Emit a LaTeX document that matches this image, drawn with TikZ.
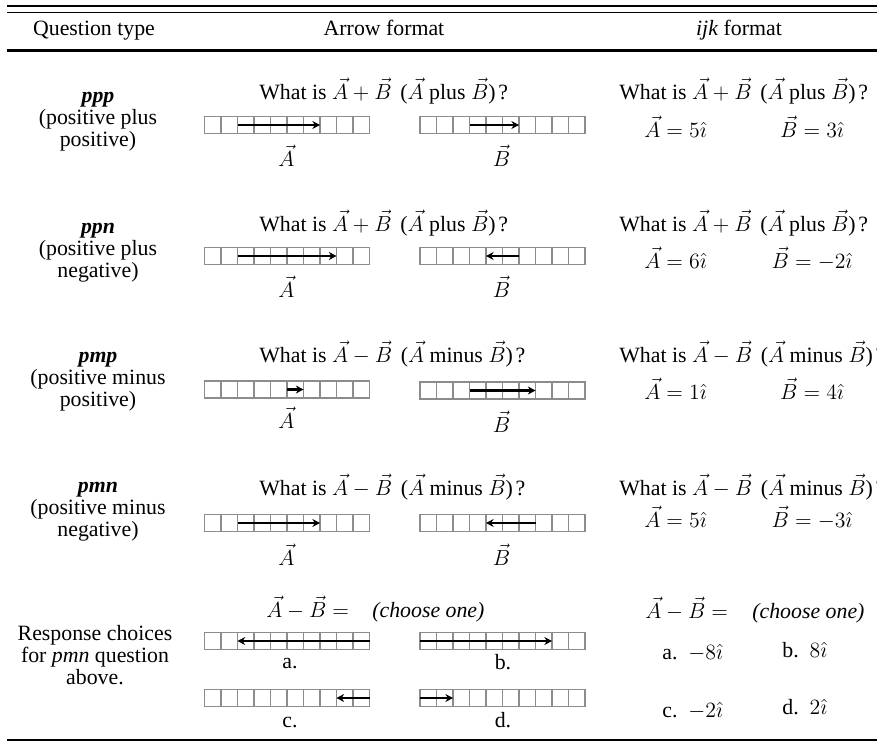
\documentclass[tikz,border=0pt]{standalone}
\usepackage{fontspec}
\setmainfont{Liberation Serif}
\usetikzlibrary{arrows.meta}
\tikzset{
  txt/.style={inner sep=0pt, anchor=base, font=\fontsize{12}{13.8}\selectfont},
  txtw/.style={txt, anchor=base west},
  cellbox/.style={draw=black!45, line width=0.6pt},
  vec/.style={line width=1.4pt, -{Stealth[length=4.2pt,width=4.4pt]}},
  rulethick/.style={line width=1.3pt},
  rulethin/.style={line width=0.8pt},
}
\newcommand\cellrow[2]{\foreach \i in {0,...,9}{\draw[cellbox] ({#1+\i*16.5},{#2}) rectangle ++(16.5,17);}}
\newcommand\vecarrow[4]{\draw[vec] ({#1+#3*16.5},{#2+8.5}) -- ({#1+#4*16.5},{#2+8.5});}
\newcommand\qplus{What is $\vec{A}+\vec{B}$\hspace{0.4em}($\vec{A}$ plus $\vec{B}$)\kern1.5pt?}
\newcommand\qminus{What is $\vec{A}-\vec{B}$\hspace{0.4em}($\vec{A}$ minus $\vec{B}$)\kern1.5pt?}
\begin{document}
\begin{tikzpicture}[x=0.55pt,y=-0.55pt]
\useasboundingbox (0,0) rectangle (877,745);
% rules
\draw[rulethick] (7,6.2) -- (877,6.2);
\draw[rulethin] (7,12.5) -- (877,12.5);
\draw[rulethick] (7,50.5) -- (877,50.5);
\draw[rulethick] (7,740) -- (877,740);
% header
\node[txt] (h1) at (94,36) {Question type};
\node[txt] (h2) at (384,36) {Arrow format};
\node[txt] (h3) at (739,36) {\textit{ijk} format};
% ---------- row ppp
\node[txt] (l1a) at (98,103) {\textbf{\textit{ppp}}};
\node[txt] (l1b) at (98,125) {(positive plus};
\node[txt] (l1c) at (98,147) {positive)};
\node[txtw] (q1) at (259,99) {\qplus};
\cellrow{204.5}{116.5}\vecarrow{204.5}{116.5}{2}{7}
\cellrow{420}{116.5}\vecarrow{420}{116.5}{3}{6}
\node[txt] (a1) at (286.5,166) {$\vec{A}$};
\node[txt] (b1) at (501.5,166) {$\vec{B}$};
\node[txtw] (k1) at (619,99) {\qplus};
\node[txt] (ka1) at (675.5,137) {$\vec{A}=5\hat{\imath}$};
\node[txt] (kb1) at (812,137) {$\vec{B}=3\hat{\imath}$};
% ---------- row ppn
\node[txt] (l2a) at (98,233) {\textbf{\textit{ppn}}};
\node[txt] (l2b) at (98,255) {(positive plus};
\node[txt] (l2c) at (98,277) {negative)};
\node[txtw] (q2) at (259,231) {\qplus};
\cellrow{204.5}{247.5}\vecarrow{204.5}{247.5}{2}{8}
\cellrow{420}{247.5}\vecarrow{420}{247.5}{6}{4}
\node[txt] (a2) at (286.5,297) {$\vec{A}$};
\node[txt] (b2) at (501.5,297) {$\vec{B}$};
\node[txtw] (k2) at (619,231) {\qplus};
\node[txt] (ka2) at (675.5,268) {$\vec{A}=6\hat{\imath}$};
\node[txt] (kb2) at (812,268) {$\vec{B}=-2\hat{\imath}$};
% ---------- row pmp
\node[txt] (l3a) at (98,362) {\textbf{\textit{pmp}}};
\node[txt] (l3b) at (98,384) {(positive minus};
\node[txt] (l3c) at (98,406) {positive)};
\node[txtw] (q3) at (259,362) {\qminus};
\cellrow{204.5}{381}\vecarrow{204.5}{381}{5}{6}
\cellrow{420}{382}\vecarrow{420}{382}{3}{7}
\node[txt] (a3) at (286.5,428) {$\vec{A}$};
\node[txt] (b3) at (501.5,432) {$\vec{B}$};
\node[txtw] (k3) at (619,362) {\qminus};
\node[txt] (ka3) at (675.5,399) {$\vec{A}=1\hat{\imath}$};
\node[txt] (kb3) at (812,399) {$\vec{B}=4\hat{\imath}$};
% ---------- row pmn
\node[txt] (l4a) at (98,492) {\textbf{\textit{pmn}}};
\node[txt] (l4b) at (98,514) {(positive minus};
\node[txt] (l4c) at (98,536) {negative)};
\node[txtw] (q4) at (259,495) {\qminus};
\cellrow{204.5}{514.5}\vecarrow{204.5}{514.5}{2}{7}
\cellrow{420}{514.5}\vecarrow{420}{514.5}{7}{4}
\node[txt] (a4) at (286.5,565) {$\vec{A}$};
\node[txt] (b4) at (501.5,565) {$\vec{B}$};
\node[txtw] (k4) at (619,495) {\qminus};
\node[txt] (ka4) at (675.5,527) {$\vec{A}=5\hat{\imath}$};
\node[txt] (kb4) at (812,527) {$\vec{B}=-3\hat{\imath}$};
% ---------- response choices
\node[txt] (r1) at (95,640) {Response choices};
\node[txt] (r2) at (95,662) {for \textit{pmn} question};
\node[txt] (r3) at (95,684) {above.};
\node[txtw] (e1) at (266,617) {$\vec{A}-\vec{B}=$};
\node[txtw] (c1) at (372,617) {\textit{(choose one)}};
\cellrow{204.5}{632.5}\vecarrow{204.5}{632.5}{10}{2}
\cellrow{420}{632.5}\vecarrow{420}{632.5}{0}{8}
\node[txt] (la) at (290,668) {a.};
\node[txt] (lb) at (503,669) {b.};
\cellrow{204.5}{689.5}\vecarrow{204.5}{689.5}{10}{8}
\cellrow{420}{689.5}\vecarrow{420}{689.5}{0}{2}
\node[txt] (lc) at (290,727) {c.};
\node[txt] (ld) at (503,727) {d.};
\node[txtw] (e2) at (645,618) {$\vec{A}-\vec{B}=$};
\node[txtw] (c2) at (752,618) {\textit{(choose one)}};
\node[txtw] (ka) at (662,659) {a.\enspace$-8\hat{\imath}$};
\node[txtw] (kb) at (782,657) {b.\enspace$8\hat{\imath}$};
\node[txtw] (kc) at (662,717) {c.\enspace$-2\hat{\imath}$};
\node[txtw] (kd) at (782,714) {d.\enspace$2\hat{\imath}$};
\end{tikzpicture}
\end{document}
